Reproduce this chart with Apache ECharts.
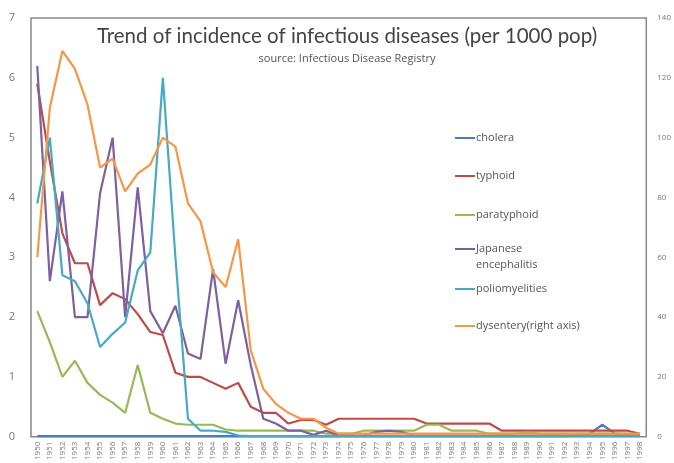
<!DOCTYPE html>
<html>
<head>
<meta charset="utf-8">
<script src="https://cdn.jsdelivr.net/npm/echarts@6/dist/echarts.min.js"></script>
<style>html,body{margin:0;padding:0;background:#fff}#c{width:674px;height:463px}</style>
</head>
<body>
<div id="c"></div>
<script>
var years = ['1950','1951','1952','1953','1954','1955','1956','1957','1958','1959','1960','1961','1962','1963','1964','1965','1966','1967','1968','1969','1970','1971','1972','1973','1974','1975','1976','1977','1978','1979','1980','1981','1982','1983','1984','1985','1986','1987','1988','1989','1990','1991','1992','1993','1994','1995','1996','1997','1998'];
var leftTicks = ['0','1','2','3','4','5','6','7'];
var rightTicks = ['0','20','40','60','80','100','120','140'];
var cholera = [0.01,0.01,0.01,0.01,0.01,0.01,0.01,0.01,0.01,0.01,0.01,0.01,0.01,0.01,0.01,0.01,0.01,0.01,0.01,0.01,0.01,0.01,0.01,0.01,0.01,0.01,0.01,0.01,0.01,0.01,0.01,0.01,0.01,0.01,0.01,0.01,0.01,0.01,0.01,0.01,0.01,0.01,0.01,0.02,0.05,0.2,0.05,0.03,0.02];
var typhoid = [5.9,4.6,3.4,2.9,2.9,2.2,2.4,2.3,2.05,1.75,1.7,1.07,1.0,1.0,0.9,0.8,0.9,0.5,0.4,0.4,0.22,0.28,0.28,0.2,0.3,0.3,0.3,0.3,0.3,0.3,0.3,0.22,0.22,0.22,0.22,0.22,0.22,0.1,0.1,0.1,0.1,0.1,0.1,0.1,0.1,0.1,0.1,0.1,0.05];
var paratyphoid = [2.1,1.58,1.0,1.27,0.9,0.7,0.57,0.4,1.2,0.4,0.3,0.22,0.2,0.2,0.2,0.12,0.1,0.1,0.1,0.1,0.1,0.1,0.1,0.05,0.05,0.05,0.1,0.1,0.1,0.1,0.1,0.2,0.2,0.1,0.1,0.1,0.05,0.05,0.05,0.07,0.05,0.05,0.05,0.05,0.05,0.05,0.05,0.05,0.03];
var encephalitis = [6.2,2.6,4.1,2.0,2.0,4.07,5.0,2.0,4.17,2.1,1.73,2.19,1.39,1.3,2.8,1.22,2.28,1.2,0.3,0.22,0.1,0.1,0.03,0.1,0.02,0.02,0.02,0.08,0.1,0.08,0.02,0.02,0.02,0.02,0.02,0.02,0.02,0.02,0.02,0.02,0.02,0.02,0.02,0.02,0.02,0.02,0.02,0.02,0.02];
var polio = [3.9,5.0,2.7,2.6,2.23,1.5,1.72,1.91,2.78,3.08,6.0,3.0,0.3,0.1,0.1,0.08,0.02,0.01,0.01,0.01,0.01,0.01,0.01,0.01,0.01,0.01,0.01,0.01,0.01,0.01,0.01,0.01,0.01,0.01,0.01,0.01,0.01,0.01,0.01,0.01,0.01,0.01,0.01,0.01,0.01,0.01,0.01,0.01,0.01];
var dysentery = [60,110,129,123,111,90,93,82,88,91,100,97,78,72,55,50,66,29,16,11,8,6,6,3,1,1,1,1,1,1,1,1,1,1,1,1,1,1,1,1,1,1,1,1,1,1,1,1,1];
var seriesNames = ['cholera','typhoid','paratyphoid','Japanese encephalitis','poliomyelities','dysentery(right axis)'];
var legendLabels = ['cholera','typhoid','paratyphoid','Japanese','poliomyelities','dysentery(right axis)'];
var legendSecondLine = 'encephalitis';
var colors = ['#4a7ebb','#be4b48','#98b954','#7d60a0','#46aac5','#f79646'];
var datasets = [cholera, typhoid, paratyphoid, encephalitis, polio, dysentery];

var legendTops = [124, 162, 201, 235, 275, 312];
var legendFont = { color: '#555', fontSize: 11, fontFamily: 'Open Sans' };
var legends = seriesNames.map(function (n, i) {
  return {
    data: [n], left: 450, top: legendTops[i], orient: 'vertical',
    icon: 'rect', itemWidth: 20, itemHeight: 2, itemGap: 0,
    textStyle: Object.assign({ padding: [0,0,0,-4], lineHeight: 18 }, legendFont),
    formatter: function () { return legendLabels[i]; },
    selectedMode: false
  };
});

var chart = echarts.init(document.getElementById('c'), null, { renderer: 'canvas' });
chart.setOption({
  backgroundColor: '#fff',
  animation: false,
  title: {
    text: 'Trend of incidence of infectious diseases (per 1000 pop)',
    subtext: 'source: Infectious Disease Registry',
    left: 342, textAlign: 'center', top: 21, itemGap: 6,
    textStyle: { fontFamily: 'Lato', fontSize: 20.5, fontWeight: 'normal', color: '#444' },
    subtextStyle: { fontFamily: 'Open Sans', fontSize: 11, color: '#555' }
  },
  legend: legends,
  graphic: [{
    type: 'text', left: 476, top: 259,
    style: { text: legendSecondLine, fill: legendFont.color, fontSize: legendFont.fontSize, fontFamily: legendFont.fontFamily }
  }],
  grid: { left: 31, right: 17, top: 18, bottom: 26, show: true, borderColor: '#888', borderWidth: 1.5, backgroundColor: 'transparent' },
  xAxis: {
    type: 'category', data: years, boundaryGap: true,
    axisLine: { show: true, lineStyle: { color: '#888' } },
    axisTick: { show: false },
    axisLabel: { rotate: 90, interval: 0, fontSize: 8, color: '#777', margin: 5, fontFamily: 'Open Sans' }
  },
  yAxis: [
    { type: 'value', min: 0, max: 7, interval: 1, splitLine: { show: false },
      axisLine: { show: false }, axisTick: { show: false },
      axisLabel: { color: '#777', fontSize: 11, margin: 16, fontFamily: 'Open Sans',
        formatter: function (v) { return leftTicks[Math.round(v)]; } } },
    { type: 'value', min: 0, max: 140, interval: 20, splitLine: { show: false },
      axisLine: { show: false }, axisTick: { show: false },
      axisLabel: { color: '#777', fontSize: 8, margin: 11, fontFamily: 'Open Sans',
        formatter: function (v) { return rightTicks[Math.round(v / 20)]; } } }
  ],
  series: seriesNames.map(function (n, i) {
    return {
      name: n, type: 'line', data: datasets[i], yAxisIndex: i === 5 ? 1 : 0,
      symbol: 'none', smooth: false, color: colors[i],
      lineStyle: { width: 2.2, color: colors[i] },
      z: i === 0 ? 1 : 2
    };
  })
});
</script>
</body>
</html>
